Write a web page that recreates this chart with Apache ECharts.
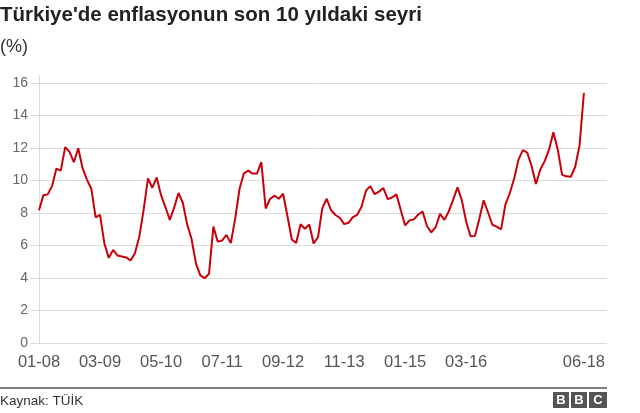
<!DOCTYPE html>
<html>
<head>
<meta charset="utf-8">
<script src="https://cdn.jsdelivr.net/npm/echarts@6/dist/echarts.min.js"></script>
<style>
html,body{margin:0;padding:0;background:#fff;}
#chart{width:640px;height:413px;}
</style>
</head>
<body>
<div id="chart"></div>
<script>
// Monthly annual CPI inflation in Türkiye, Jan 2008 – Jun 2018 (%)
const startYear = 2008;
const inflation = [
  8.17, 9.10, 9.15, 9.66, 10.74, 10.61, 12.06, 11.77, 11.13, 11.99, 10.76, 10.06,
  9.50, 7.73, 7.89, 6.13, 5.24, 5.73, 5.39, 5.33, 5.27, 5.08, 5.53, 6.53,
  8.19, 10.13, 9.56, 10.19, 9.10, 8.37, 7.58, 8.33, 9.24, 8.62, 7.29, 6.40,
  4.90, 4.16, 3.99, 4.26, 7.17, 6.24, 6.31, 6.65, 6.15, 7.66, 9.48, 10.45,
  10.61, 10.43, 10.43, 11.14, 8.28, 8.87, 9.07, 8.88, 9.19, 7.80, 6.37, 6.16,
  7.31, 7.03, 7.29, 6.13, 6.51, 8.30, 8.88, 8.17, 7.88, 7.71, 7.32, 7.40,
  7.75, 7.89, 8.39, 9.38, 9.66, 9.16, 9.32, 9.54, 8.86, 8.96, 9.15, 8.17,
  7.24, 7.55, 7.61, 7.91, 8.09, 7.20, 6.81, 7.14, 7.95, 7.58, 8.10, 8.81,
  9.58, 8.78, 7.46, 6.57, 6.58, 7.64, 8.79, 8.05, 7.28, 7.16, 7.00, 8.53,
  9.22, 10.13, 11.29, 11.87, 11.72, 10.90, 9.79, 10.68, 11.20, 11.90, 12.98, 11.92,
  10.35, 10.26, 10.23, 10.85, 12.15, 15.39
];
// month categories "MM-YY"
const months = inflation.map((_, i) => {
  const m = (i % 12) + 1;
  const y = (startYear + Math.floor(i / 12)) % 100;
  return String(m).padStart(2, '0') + '-' + String(y).padStart(2, '0');
});
const xTickLabels = ['01-08', '03-09', '05-10', '07-11', '09-12', '11-13', '01-15', '03-16', '06-18'];
const yTicks = [0, 2, 4, 6, 8, 10, 12, 14, 16];

const xTickPos = xTickLabels.map(l => months.indexOf(l));

const chart = echarts.init(document.getElementById('chart'), null, {renderer: 'canvas'});
const FONT = '"Liberation Sans", Arial, Helvetica, sans-serif';

chart.setOption({
  animation: false,
  backgroundColor: '#fff',
  textStyle: {fontFamily: FONT},
  title: [
    {
      text: "Türkiye'de enflasyonun son 10 yıldaki seyri",
      left: 0, top: 5, padding: 0,
      textStyle: {fontFamily: FONT, fontSize: 20.5, fontWeight: 'bold', color: '#222'}
    },
    {
      text: '(%)',
      left: 0, top: 38, padding: 0,
      textStyle: {fontFamily: FONT, fontSize: 18, fontWeight: 'normal', color: '#333'}
    }
  ],
  grid: {left: 30, right: 33, top: 75, bottom: 70, containLabel: false},
  xAxis: {
    type: 'value',
    min: -2.064,
    max: 130.3,
    axisLine: {show: false},
    axisTick: {show: false},
    splitLine: {show: false},
    axisLabel: {
      customValues: xTickPos,
      formatter: v => months[Math.round(v)] || '',
      fontFamily: FONT, fontSize: 16.5, color: '#555', margin: 11
    }
  },
  yAxis: {
    type: 'value',
    min: 0,
    max: 16.5,
    interval: 2,
    axisLine: {show: false},
    axisTick: {show: false},
    splitLine: {show: true, showMaxLine: false, lineStyle: {color: '#dcdcdc', width: 1}},
    axisLabel: {
      customValues: yTicks,
      fontFamily: FONT, fontSize: 14, color: '#666', margin: 2
    }
  },
  series: [{
    type: 'line',
    data: inflation.map((v, i) => [i, v]),
    symbol: 'none',
    lineStyle: {color: '#c8000a', width: 2},
    itemStyle: {color: '#c8000a'},
    z: 3,
    markLine: {
      silent: true,
      symbol: 'none',
      label: {show: false},
      lineStyle: {color: '#dcdcdc', type: 'solid', width: 1},
      z: 1,
      data: [{xAxis: 0}]
    }
  }],
  graphic: [
    {type: 'line', shape: {x1: 0, y1: 388, x2: 607, y2: 388}, style: {stroke: '#555', lineWidth: 1.5}},
    {type: 'text', left: 0, top: 394, style: {text: 'Kaynak: TÜİK', font: '13.5px ' + FONT, fill: '#333'}},
    {type: 'rect', shape: {x: 553, y: 392, width: 16, height: 16}, style: {fill: '#555'}},
    {type: 'rect', shape: {x: 571, y: 392, width: 16, height: 16}, style: {fill: '#555'}},
    {type: 'rect', shape: {x: 589, y: 392, width: 18, height: 16}, style: {fill: '#555'}},
    {type: 'text', x: 561, y: 400, style: {text: 'B', font: 'bold 13px ' + FONT, fill: '#fff', align: 'center', verticalAlign: 'middle'}},
    {type: 'text', x: 579, y: 400, style: {text: 'B', font: 'bold 13px ' + FONT, fill: '#fff', align: 'center', verticalAlign: 'middle'}},
    {type: 'text', x: 598, y: 400, style: {text: 'C', font: 'bold 13px ' + FONT, fill: '#fff', align: 'center', verticalAlign: 'middle'}}
  ]
});
</script>
</body>
</html>
